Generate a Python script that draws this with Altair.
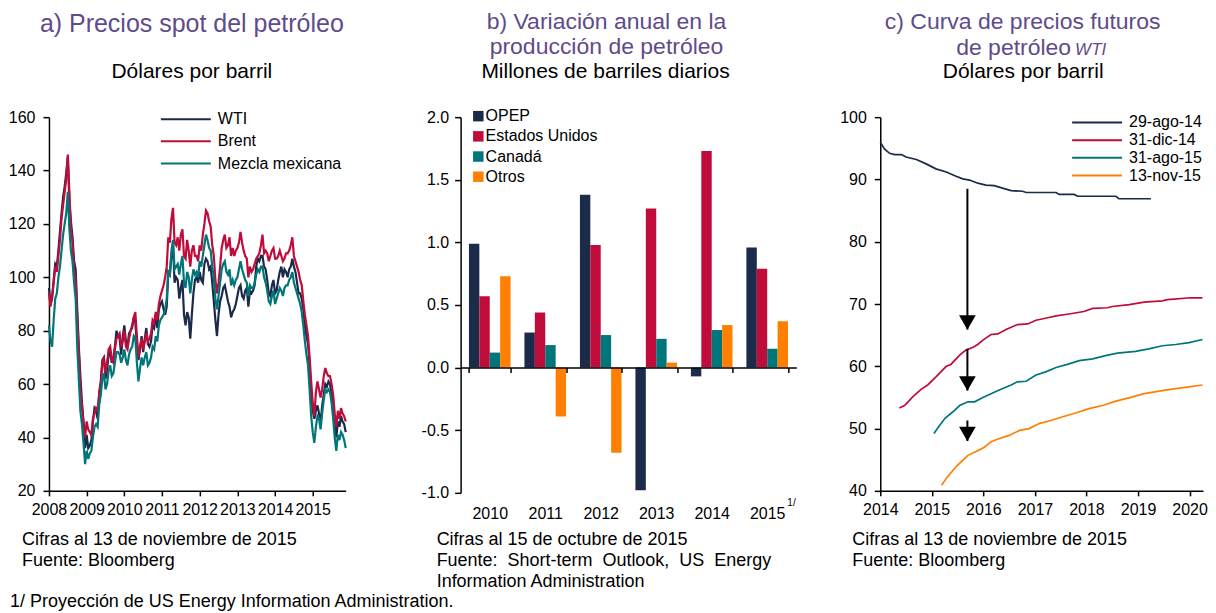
import altair as alt
import pandas as pd

FONT = "Liberation Sans, Arial, sans-serif"
PURPLE = "#5F4B8B"

# ---------------- Panel a: spot prices (semi-monthly readings) ----------------
series_a = ["WTI", "Brent", "Mezcla mexicana"]
colors_a = ["#1B2A4A", "#C00C3A", "#00767A"]

wti = [
    96, 90, 92, 99, 105, 104, 110, 117, 124, 130, 134, 139, 145, 128, 121, 115, 106, 103, 88, 74, 63, 53, 46, 36,
    41, 36, 37, 39, 46, 51, 50, 47, 57, 61, 69, 70, 62, 65, 71, 72, 68, 70, 74, 80, 78, 77, 71, 78,
    82, 76, 74, 79, 80, 82, 85, 83, 75, 69, 73, 78, 72, 77, 81, 75, 74, 76, 82, 81, 86, 81, 88, 90,
    91, 88, 86, 89, 102, 101, 108, 112, 98, 100, 99, 92, 96, 99, 86, 82, 87, 85, 77, 86, 94, 99, 100, 98,
    102, 99, 98, 105, 107, 106, 103, 104, 98, 91, 84, 78, 86, 91, 93, 96, 97, 94, 91, 89, 85, 87, 88, 90,
    93, 96, 97, 93, 92, 95, 96, 89, 95, 94, 95, 97, 104, 107, 106, 108, 108, 104, 103, 99, 94, 93, 97, 99,
    94, 95, 99, 102, 104, 100, 103, 102, 100, 103, 104, 107, 104, 102, 98, 94, 94, 92, 88, 82, 78, 75, 67, 56,
    50, 47, 50, 52, 49, 45, 52, 56, 60, 59, 61, 60, 56, 50, 45, 40, 46, 44, 48, 46, 45, 42,
]
brent = [
    94, 89, 93, 98, 104, 102, 108, 114, 122, 127, 132, 137, 146, 132, 118, 113, 103, 99, 85, 72, 58, 52, 45, 40,
    46, 43, 42, 41, 47, 49, 51, 50, 56, 60, 68, 70, 64, 68, 73, 74, 69, 68, 73, 77, 78, 79, 74, 76,
    80, 74, 73, 77, 80, 81, 85, 87, 78, 70, 74, 77, 73, 76, 79, 76, 77, 79, 84, 83, 87, 84, 90, 93,
    95, 97, 100, 104, 115, 113, 122, 126, 113, 112, 115, 110, 116, 118, 108, 107, 114, 110, 104, 110, 112, 108, 108, 106,
    112, 110, 116, 120, 125, 124, 121, 119, 112, 108, 99, 94, 98, 104, 111, 114, 116, 111, 112, 115, 108, 111, 108, 110,
    111, 113, 117, 113, 110, 108, 107, 100, 104, 102, 103, 105, 107, 108, 109, 112, 116, 109, 110, 109, 106, 108, 110, 111,
    107, 107, 108, 110, 108, 106, 107, 109, 109, 110, 112, 115, 108, 106, 104, 102, 99, 97, 91, 86, 82, 78, 70, 61,
    53, 48, 57, 61, 58, 55, 58, 63, 66, 64, 63, 63, 60, 56, 49, 44, 50, 47, 51, 49, 48, 46,
]
mezcla = [
    82, 76, 74, 84, 92, 94, 100, 104, 110, 116, 120, 124, 132, 118, 110, 106, 98, 92, 74, 62, 50, 45, 38, 30,
    35, 32, 34, 35, 40, 44, 45, 44, 52, 56, 62, 64, 58, 60, 65, 67, 63, 64, 68, 72, 72, 71, 68, 70,
    73, 69, 67, 71, 73, 74, 78, 77, 68, 61, 66, 70, 67, 70, 72, 67, 68, 70, 74, 73, 78, 76, 82, 84,
    85, 86, 88, 92, 102, 101, 110, 114, 103, 104, 105, 101, 105, 108, 98, 96, 102, 100, 94, 99, 103, 101, 102, 100,
    106, 104, 108, 112, 116, 114, 111, 110, 104, 100, 92, 88, 93, 98, 103, 105, 106, 102, 101, 103, 97, 99, 97, 99,
    100, 103, 106, 103, 101, 99, 98, 93, 97, 96, 96, 98, 101, 103, 102, 104, 104, 100, 98, 95, 91, 90, 93, 95,
    90, 92, 94, 96, 95, 93, 96, 97, 97, 99, 100, 102, 98, 96, 94, 92, 90, 87, 82, 76, 71, 67, 58, 48,
    42, 38, 44, 48, 47, 43, 49, 54, 58, 57, 58, 57, 53, 47, 40, 35, 41, 39, 42, 41, 39, 36,
]
# sampling times: 1st and mid of each month, Jan 2008 - Nov 2015
t_a = [y + (m - 1) / 12 + h / 24 for y in range(2008, 2016) for m in range(1, 13)
       for h in (0, 1) if not (y == 2015 and m == 12)]

# ---------------- Panel b: annual change in production ----------------
years_b = ["2010", "2011", "2012", "2013", "2014", "2015"]
series_b = ["OPEP", "Estados Unidos", "Canadá", "Otros"]
colors_b = ["#1C2B4A", "#C00C3A", "#00767A", "#FF8000"]
opep = [0.99, 0.28, 1.38, -0.98, -0.07, 0.96]
eeuu = [0.57, 0.44, 0.98, 1.27, 1.73, 0.79]
canada = [0.12, 0.18, 0.26, 0.23, 0.30, 0.15]
otros = [0.73, -0.39, -0.68, 0.04, 0.34, 0.37]

# ---------------- Panel c: WTI futures curves ----------------
series_c = ["29-ago-14", "31-dic-14", "31-ago-15", "13-nov-15"]
colors_c = ["#1B2A4A", "#C00C3A", "#00767A", "#FF8000"]
t_c1 = [2014.00, 2014.08, 2014.18, 2014.28, 2014.41, 2014.50, 2014.70, 2014.89, 2015.08, 2015.28, 2015.47,
        2015.60, 2015.73, 2015.89, 2016.05, 2016.21, 2016.37, 2016.54, 2016.76, 2016.83, 2017.41, 2017.47,
        2017.76, 2017.83, 2018.57, 2018.63, 2019.25]
v_c1 = [96.0, 94.9, 94.2, 94.0, 94.0, 93.6, 93.2, 92.5, 91.7, 91.2, 90.5, 90.1, 89.9, 89.4, 89.1, 89.0, 88.6,
        88.2, 88.1, 87.9, 87.9, 87.6, 87.6, 87.3, 87.3, 86.9, 86.9]
t_c2 = [2014.37, 2014.47, 2014.63, 2014.79, 2014.92, 2015.08, 2015.28, 2015.37, 2015.54, 2015.66, 2015.79,
        2015.89, 2015.99, 2016.15, 2016.28, 2016.44, 2016.66, 2016.86, 2017.02, 2017.25, 2017.41, 2017.66,
        2017.95, 2018.12, 2018.41, 2018.50, 2018.83, 2019.12, 2019.47, 2019.57, 2020.02, 2020.25]
v_c2 = [53.3, 53.7, 55.1, 56.3, 57.0, 58.3, 60.0, 60.3, 61.8, 62.6, 63.0, 63.5, 64.2, 65.1, 65.2, 65.9, 66.7,
        66.8, 67.4, 67.8, 68.1, 68.4, 68.8, 69.3, 69.4, 69.6, 69.9, 70.3, 70.5, 70.7, 71.0, 71.0]
t_c3 = [2015.04, 2015.15, 2015.26, 2015.41, 2015.54, 2015.70, 2015.83, 2015.99, 2016.18, 2016.34, 2016.54,
        2016.66, 2016.83, 2017.02, 2017.21, 2017.41, 2017.63, 2017.86, 2018.12, 2018.37, 2018.60, 2018.95,
        2019.21, 2019.47, 2019.73, 2019.99, 2020.25]
v_c3 = [49.2, 50.5, 51.7, 52.7, 53.7, 54.3, 54.3, 55.0, 55.7, 56.3, 57.0, 57.5, 57.6, 58.6, 59.1, 59.8, 60.3,
        60.9, 61.2, 61.7, 62.1, 62.4, 62.8, 63.3, 63.5, 63.8, 64.3]
t_c4 = [2015.19, 2015.28, 2015.37, 2015.47, 2015.60, 2015.70, 2015.86, 2016.02, 2016.15, 2016.31, 2016.50,
        2016.70, 2016.89, 2017.08, 2017.31, 2017.54, 2017.79, 2018.05, 2018.31, 2018.57, 2018.86, 2019.12,
        2019.47, 2019.73, 2019.99, 2020.25]
v_c4 = [40.9, 42.0, 42.9, 43.9, 44.9, 45.7, 46.3, 47.0, 47.9, 48.4, 48.9, 49.7, 50.0, 50.8, 51.3, 51.9, 52.5,
        53.2, 53.7, 54.4, 55.0, 55.6, 56.1, 56.4, 56.7, 57.0]
arrow_t = [2015.69, 2015.69, 2015.69]
arrow_from = [88.5, 62.8, 51.3]
arrow_to = [65.9, 56.1, 48.0]

# ---------------- Texts ----------------
title_a = "a) Precios spot del petróleo"
title_b = ["b) Variación anual en la", "producción de petróleo"]
title_c = ["c) Curva de precios futuros", "de petróleo", "WTI"]
unit_a = "Dólares por barril"
unit_b = "Millones de barriles diarios"
unit_c = "Dólares por barril"
notes_a = ["Cifras al 13 de noviembre de 2015", "Fuente: Bloomberg"]
notes_b = ["Cifras al 15 de octubre de 2015",
           "Fuente:\u00a0 Short-term\u00a0 Outlook,\u00a0 US\u00a0 Energy",
           "Information Administration"]
notes_c = ["Cifras al 13 de noviembre de 2015", "Fuente: Bloomberg"]
footnote = "1/ Proyección de US Energy Information Administration."
superscript = "1/"


def label(txt, x, y, size, color="#000000", align="left", italic=False, baseline="middle"):
    return alt.Chart(pd.DataFrame({"t": [txt]})).mark_text(
        align=align, baseline=baseline, fontSize=size, font=FONT, color=color,
        fontStyle="italic" if italic else "normal"
    ).encode(x=alt.value(x), y=alt.value(y), text="t:N")


def legend_line(name, color, x1, x2, xt, y, width=2):
    d = pd.DataFrame({"t": [name]})
    r = alt.Chart(d).mark_rule(color=color, strokeWidth=width).encode(
        x=alt.value(x1), x2=alt.value(x2), y=alt.value(y))
    return [r, label(name, xt, y, 16)]


def ax(**kw):
    base = dict(title=None, grid=False, labelFlush=False, labelOverlap=False)
    base.update(kw)
    return alt.Axis(**base)


# title rows (local y, relative to plot top)
T1, T2, TS = -95, -70, -45

# ---------------- Panel a ----------------
W_A, H_A = 297, 374
df_a = pd.DataFrame({"t": t_a * 3, "v": wti + brent + mezcla,
                     "s": [s for s in series_a for _ in t_a]})
xa = alt.X("t:Q", scale=alt.Scale(domain=[2008, 2015.875], nice=False, zero=False),
           axis=ax(values=list(range(2008, 2016)), format="d", tickSize=5, labelPadding=6))
ya = alt.Y("v:Q", scale=alt.Scale(domain=[20, 160], nice=False, zero=False),
           axis=ax(values=list(range(20, 161, 20)), tickSize=6, labelPadding=8))
layers_a = [alt.Chart(df_a[df_a.s == s]).mark_line(color=c, strokeWidth=2.2).encode(x=xa, y=ya)
            for s, c in zip(series_a, colors_a)]
for i, (s, c) in enumerate(zip(series_a, colors_a)):
    layers_a += legend_line(s, c, 112, 162, 169, 2 + 22.2 * i)
layers_a += [
    label(title_a, 143, -93, 25, PURPLE, "center"),
    label(unit_a, 143, TS, 21, "#000000", "center"),
    label(notes_a[0], -27, 423, 18),
    label(notes_a[1], -27, 444, 18),
    label(footnote, -39, 485, 18),
]
panel_a = alt.layer(*layers_a).properties(width=W_A, height=H_A)

# ---------------- Panel b ----------------
W_B, H_B = 336, 376
df_b = pd.DataFrame({
    "year": years_b * 4,
    "series": [s for s in series_b for _ in years_b],
    "value": opep + eeuu + canada + otros,
})
zero_from_bottom = H_B * 1 / 3
xb = alt.X("year:N", sort=years_b, scale=alt.Scale(paddingInner=0.25, paddingOuter=0.15),
           axis=ax(labelAngle=0, offset=-zero_from_bottom, tickBand="extent", tickSize=5,
                   labelPadding=133, zindex=1))
yb = alt.Y("value:Q", scale=alt.Scale(domain=[-1, 2], nice=False),
           axis=ax(values=[-1, -0.5, 0, 0.5, 1, 1.5, 2], tickSize=6, labelPadding=6,
                   labelExpr="datum.value < 0 ? '-' + format(-datum.value, '.1f') : format(datum.value, '.1f')"))
bars = alt.Chart(df_b).mark_bar().encode(
    x=xb,
    xOffset=alt.XOffset("series:N", sort=series_b, scale=alt.Scale(paddingInner=0, paddingOuter=0)),
    y=yb,
    color=alt.Color("series:N", sort=series_b, scale=alt.Scale(domain=series_b, range=colors_b), legend=None),
)
layers_b = [bars]
for i, (s, c) in enumerate(zip(series_b, colors_b)):
    d = pd.DataFrame({"t": [s]})
    y = -1 + 20.2 * i
    layers_b.append(alt.Chart(d).mark_square(color=c, opacity=1, size=110).encode(
        x=alt.value(17.7), y=alt.value(y)))
    layers_b.append(label(s, 25, y, 16))
layers_b += [
    label(title_b[0], 146, T1, 23, PURPLE, "center"),
    label(title_b[1], 146, T2, 23, PURPLE, "center"),
    label(unit_b, 145, TS, 21, "#000000", "center"),
    label(notes_b[0], -24, 423, 18),
    label(notes_b[1], -24, 444, 18),
    label(notes_b[2], -24, 465, 18),
    label(superscript, 327, 386, 10),
]
panel_b = alt.layer(*layers_b).properties(width=W_B, height=H_B)

# ---------------- Panel c ----------------
W_C, H_C = 323, 374
xc = alt.X("t:Q", scale=alt.Scale(domain=[2014, 2020.26], nice=False, zero=False),
           axis=ax(values=list(range(2014, 2021)), format="d", tickSize=5, labelPadding=6))
yc = alt.Y("v:Q", scale=alt.Scale(domain=[40, 100], nice=False, zero=False),
           axis=ax(values=list(range(40, 101, 10)), tickSize=6, labelPadding=8))
curves = [(t_c1, v_c1), (t_c2, v_c2), (t_c3, v_c3), (t_c4, v_c4)]
layers_c = []
for (tt, vv), c in zip(curves, colors_c):
    layers_c.append(alt.Chart(pd.DataFrame({"t": tt, "v": vv})).mark_line(
        color=c, strokeWidth=1.7).encode(x=xc, y=yc))
df_arrow = pd.DataFrame({"t": arrow_t, "v": arrow_from, "v2": arrow_to})
layers_c.append(alt.Chart(df_arrow).mark_rule(color="black", strokeWidth=2).encode(
    x="t:Q", y="v:Q", y2="v2:Q"))
layers_c.append(alt.Chart(df_arrow).mark_point(
    shape="triangle-down", filled=True, color="black", opacity=1, size=280, yOffset=-7
).encode(x="t:Q", y="v2:Q"))
for i, (s, c) in enumerate(zip(series_c, colors_c)):
    layers_c += legend_line(s, c, 192, 242, 249, 5.3 + 17.7 * i)
layers_c += [
    label(title_c[0], 142.5, T1, 23, PURPLE, "center"),
    label(title_c[1], 191, T2 + 8, 23, PURPLE, "right", baseline="alphabetic"),
    label(title_c[2], 195, T2 + 8, 17, PURPLE, "left", italic=True, baseline="alphabetic"),
    label(unit_c, 143, TS, 21, "#000000", "center"),
    label(notes_c[0], -28, 423, 18),
    label(notes_c[1], -28, 444, 18),
]
panel_c = alt.layer(*layers_c).properties(width=W_C, height=H_C)


def spacer(w):
    return alt.Chart(pd.DataFrame({"a": [0]})).mark_point(opacity=0).encode(
        x=alt.value(0), y=alt.value(0)).properties(width=w, height=H_A)


chart = alt.hconcat(
    panel_a, spacer(115), panel_b, spacer(84), panel_c, spacing=0, bounds="flush"
).properties(
    padding={"left": 0, "top": 3, "right": 0, "bottom": 0}
).configure_view(stroke=None).configure_axis(
    domainColor="#000000", tickColor="#000000", labelColor="#000000",
    labelFont=FONT, labelFontSize=16, domainWidth=1.5, tickWidth=1.5,
)

chart.save("out.html", embed_options={"renderer": "svg", "actions": False})
